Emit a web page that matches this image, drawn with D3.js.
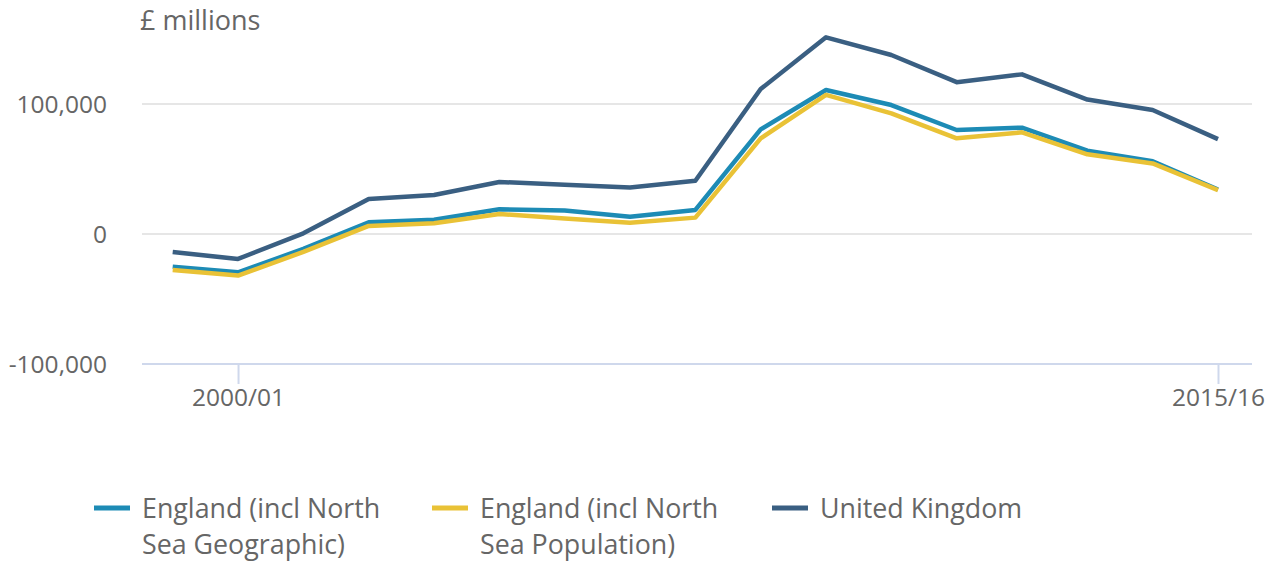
<!DOCTYPE html>
<html>
<head>
<meta charset="utf-8">
<script src="https://cdn.jsdelivr.net/npm/d3@7"></script>
<style>
  body { margin: 0; background: #fff; font-family: "Open Sans", sans-serif; }
  text { font-family: "Open Sans", sans-serif; }
</style>
</head>
<body>
<svg id="chart" width="1274" height="562"></svg>
<script>
// years on the x axis
var years = ["1999/00","2000/01","2001/02","2002/03","2003/04","2004/05","2005/06","2006/07",
             "2007/08","2008/09","2009/10","2010/11","2011/12","2012/13","2013/14","2014/15","2015/16"];
var tickYears = ["2000/01", "2015/16"];
var yTicks = [-100000, 0, 100000];

// £ millions
var englandGeo = [-25100, -29500, -11500, 9000, 11000, 19000, 18000, 13300, 18500,
                  80500, 110800, 99200, 80000, 81800, 64100, 56000, 34200];
var englandPop = [-27700, -32000, -13800, 6200, 8200, 15400, 12000, 8700, 12600,
                  73600, 107000, 92800, 73600, 78200, 61300, 54300, 33800];
var unitedKingdom = [-13800, -19200, 500, 26900, 30000, 40000, 37900, 35800, 41000,
                     111500, 151300, 137700, 116800, 122800, 103400, 95400, 73000];

var seriesNames = ["England (incl North|Sea Geographic)", "England (incl North|Sea Population)", "United Kingdom"];
var seriesColors = ["#1d8bb5", "#e9c236", "#3a5f82"];

var svg = d3.select("#chart");
var plotLeft = 142, plotRight = 1252, plotTop = 104, plotBottom = 364;

var x = d3.scalePoint().domain(years).range([172.7, 1218]);
var y = d3.scaleLinear().domain([-100000, 100000]).range([plotBottom, plotTop]);

//grid lines
svg.selectAll(".grid")
    .data(yTicks.filter(function(d) { return d != -100000; }))
    .enter().append("line")
    .attr("x1", plotLeft).attr("x2", plotRight)
    .attr("y1", function(d) { return y(d); })
    .attr("y2", function(d) { return y(d); })
    .attr("stroke", "#e6e6e6")
    .attr("stroke-width", 2);

//y labels, plain hyphen for negatives like the original
svg.selectAll(".ylab")
    .data(yTicks)
    .enter().append("text")
    .attr("x", 107)
    .attr("y", function(d) { return y(d) + 9; })
    .attr("text-anchor", "end")
    .attr("fill", "#666")
    .style("font-size", "24.5px")
    .text(function(d) { return d3.format(",")(d).replace("\u2212", "-"); });

svg.append("text")
    .attr("x", 140).attr("y", 30)
    .attr("fill", "#666")
    .style("font-size", "27px")
    .text("£ millions");

//x axis
var xAxis = d3.axisBottom(x).tickValues(tickYears).tickSize(20).tickPadding(6);
var gx = svg.append("g")
    .attr("transform", "translate(0," + plotBottom + ")")
    .call(xAxis);
gx.select(".domain").remove();
gx.append("line")
    .attr("x1", plotLeft).attr("x2", plotRight)
    .attr("stroke", "#cfd8ec").attr("stroke-width", 2);
gx.selectAll(".tick line").attr("stroke", "#cfd8ec").attr("stroke-width", 2);
gx.selectAll(".tick text")
    .attr("fill", "#666")
    .attr("dy", "0.65em")
    .style("font-size", "24.5px")
    .attr("font-family", "Open Sans, sans-serif");

//lines
var line = d3.line()
    .x(function(d, i) { return x(years[i]); })
    .y(function(d) { return y(d); });

var allSeries = [englandGeo, englandPop, unitedKingdom];
allSeries.forEach(function(s, i) {
  svg.append("path")
      .datum(s)
      .attr("fill", "none")
      .attr("stroke", seriesColors[i])
      .attr("stroke-width", 4.5)
      .attr("stroke-linejoin", "round")
      .attr("d", line);
});

//legend
var legendX = [94, 432, 772];
seriesNames.forEach(function(name, i) {
  var g = svg.append("g").attr("transform", "translate(" + legendX[i] + ",508)");
  g.append("line")
      .attr("x1", 0).attr("x2", 36)
      .attr("stroke", seriesColors[i])
      .attr("stroke-width", 5);
  var t = g.append("text")
      .attr("x", 48).attr("y", 10)
      .attr("fill", "#666")
      .style("font-size", "26.8px");
  name.split("|").forEach(function(part, j) {
    t.append("tspan").attr("x", 48).attr("dy", j == 0 ? 0 : 36).text(part);
  });
});
</script>
</body>
</html>
